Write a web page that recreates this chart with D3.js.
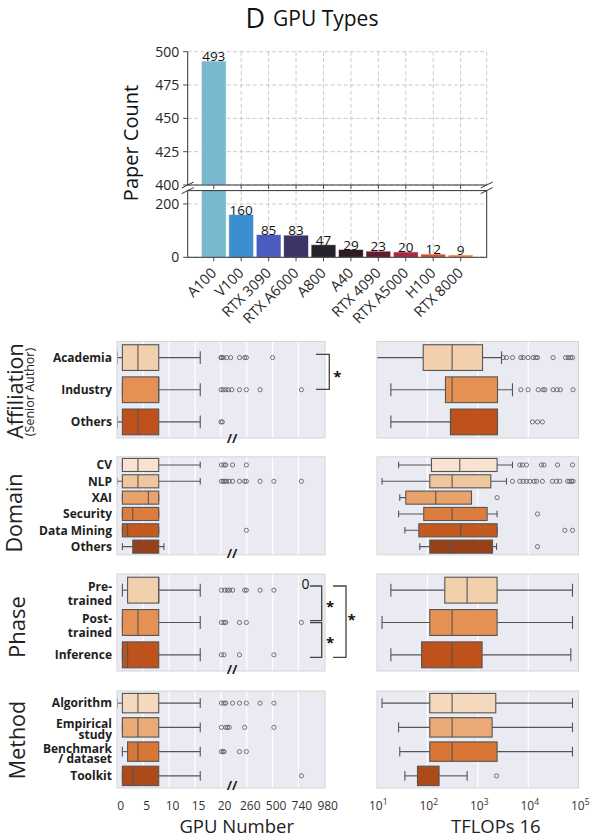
<!DOCTYPE html>
<html><head><meta charset="utf-8">
<script src="https://cdn.jsdelivr.net/npm/d3@7"></script>
<style>body{margin:0;background:#fff;} svg{display:block;font-family:"Open Sans",sans-serif;}</style>
</head><body><svg id="c" width="594" height="840"></svg>
<script>
// ---------------- DATA ----------------
const gpuTypes = ["A100","V100","RTX 3090","RTX A6000","A800","A40","RTX 4090","RTX A5000","H100","RTX 8000"];
const gpuCounts = [493,160,85,83,47,29,23,20,12,9];
const gpuColors = ["#78b9d0","#3b8fd1","#4a5cc0","#3c3466","#23232b","#2e1a22","#5e1e30","#a9283f","#da4a2e","#ee8b4e"];
const upperTicks = [400,425,450,475,500];
const lowerTicks = [0,200];

const gpuTickVals = [0,5,10,15,20,260,500,740,980];
const tflopTickExp = [1,2,3,4,5];

// Affiliation  [min, q1, median, q3, max]
const affCats = ["Academia","Industry","Others"];
const affGpu = [[0,1,4,8,16],[1,1,8,8,16],[0,1,4,8,16]];
const affGpuOut = [[20,24,40,72,110,192,240,256,500],[20,40,64,88,120,192,256,384,768],[20,32]];
const affTf = [[6,83,310,1240,2950],[19,229,310,2455,4860],[19,288,288,2455,2455]];
const affTfOut = [[3170,3700,4860,7100,7900,9900,12450,14100,15200,31000,54600,61400,68500,75000],
  [7100,9900,15700,19600,21200,31000,37000,43200,77000],[12100,15200,19000]];

// Domain
const domCats = ["CV","NLP","XAI","Security","Data Mining","Others"];
const domGpu = [[1,1,4,8,16],[0,1,4,8,16],[1,1,6,8,8],[1,1,3,8,8],[1,1,2,8,8],[1,3,4,8,9]];
const domGpuOut = [[24,48,64,128,256],[24,40,56,72,96,128,192,240,256,384,512,768],[],[],[256],[]];
const domTf = [[27,121,440,2410,4860],[12.7,112,310,1810,3700],[28.5,37.5,147,750,750],
  [27,85,310,1530,2410],[36,68,460,2410,2410],[71,112,279,1955,2350]];
const domTfOut = [[6790,7670,9200,18200,20500,37900,75000],
  [4860,6790,7900,9200,10700,13100,14600,19000,30000,36000,42000,60000,66000,72000,77000],
  [2410],[15200],[53000,75000],[15200]];

// Phase
const phaseCats = ["Pre-\ntrained","Post-\ntrained","Inference"];
const phaseGpu = [[1,2,8,8,16],[1,1,4,8,16],[1,1,2,8,16]];
const phaseGpuOut = [[24,56,80,100,128,240,256,384,512],[24,48,64,192,256,768],[24,48,192,512]];
const phaseTf = [[19,222,614,2410,75000],[12.7,112,310,2410,75000],[19,77,310,1215,69500]];
const phaseTfOut = [[],[],[]];

// Method
const methCats = ["Algorithm","Empirical\nstudy","Benchmark\n/ dataset","Toolkit"];
const methGpu = [[0,1,4,8,16],[1,1,4,8,16],[1,2,4,8,16],[1,1,3,8,16]];
const methGpuOut = [[24,48,64,128,192,256,384,512],[24,64,80,96,240,512],[24,40,48,192,256],[768]];
const methTf = [[12.7,112,310,2270,75000],[27,112,310,1920,75000],[28.5,112,310,2410,75000],[36,64,64,171,614]];
const methTfOut = [[],[],[],[2350]];

const orangeStops = ["#fff5eb","#fee6ce","#fdd0a2","#fdae6b","#fd8d3c","#f16913","#d94801","#a63603","#7f2704"];

// ---------------- DRAW ----------------
const svg = d3.select("#c");
const defs = svg.append("defs");
const TXT = "#262626";
let clipN = 0;
function clip(x,y,w,h){
  const id = "cl"+(clipN++);
  defs.append("clipPath").attr("id",id).append("rect").attr("x",x).attr("y",y).attr("width",w).attr("height",h);
  return "url(#"+id+")";
}
function oranges(n){
  const s = d3.scaleLinear().domain(d3.range(9).map(i=>i/8)).range(orangeStops).interpolate(d3.interpolateRgb);
  return d3.range(n).map(i=>{const c=d3.hsl(s((i+1)/(n+1))); c.s*=0.75; return c.formatHex();});
}

// Title
svg.append("text").attr("x",245.5).attr("y",28).attr("font-size",27).attr("fill","#111").text("D");
svg.append("text").attr("x",273).attr("y",26).attr("font-size",21).attr("fill","#111").text("GPU Types");

// Bar chart (broken axis)
const bx0=187.7, bx1=486.7;
const xB = d3.scaleBand().domain(gpuTypes).range([bx0,bx1]).paddingInner(0.1).paddingOuter(0.5);
const yUp = d3.scaleLinear().domain([400,500]).range([185,51.7]);
const yLo = d3.scaleLinear().domain([0,250]).range([257.3,190.6]);
const gridStyle = s=>s.attr("stroke","#bdbdbd").attr("stroke-width",0.8).attr("stroke-dasharray","4,2.5");

function barPanel(y, ticks, yTop, yBot){
  const g = svg.append("g");
  ticks.forEach(t=>g.append("line").attr("x1",bx0).attr("x2",bx1).attr("y1",y(t)).attr("y2",y(t)).call(gridStyle));
  gpuTypes.forEach(c=>g.append("line").attr("x1",xB(c)+xB.bandwidth()/2).attr("x2",xB(c)+xB.bandwidth()/2)
    .attr("y1",yTop).attr("y2",yBot).call(gridStyle));
  const bars = g.append("g").attr("clip-path",clip(bx0,yTop,bx1-bx0,yBot-yTop));
  bars.selectAll("rect").data(gpuCounts).join("rect")
    .attr("x",(d,i)=>xB(gpuTypes[i])).attr("width",xB.bandwidth())
    .attr("y",d=>y(d)).attr("height",d=>Math.max(0,yBot-y(d)))
    .attr("fill",(d,i)=>gpuColors[i]).attr("stroke","#ffffff").attr("stroke-opacity",0.6).attr("stroke-width",0.8);
  ticks.forEach(t=>{
    g.append("line").attr("x1",bx0-4.5).attr("x2",bx0).attr("y1",y(t)).attr("y2",y(t)).attr("stroke","#333").attr("stroke-width",0.9);
    g.append("text").attr("x",bx0-8.5).attr("y",y(t)+5).attr("text-anchor","end").attr("font-size",14).attr("fill",TXT).text(t);
  });
  gpuTypes.forEach(c=>g.append("line").attr("x1",xB(c)+xB.bandwidth()/2).attr("x2",xB(c)+xB.bandwidth()/2)
    .attr("y1",yBot).attr("y2",yBot+4).attr("stroke","#333").attr("stroke-width",0.9));
  return g;
}
const gUp = barPanel(yUp, upperTicks, 51.7, 185);
const gLo = barPanel(yLo, lowerTicks, 190.6, 257.3);
// spines
gUp.append("line").attr("x1",bx1).attr("x2",bx1).attr("y1",51.7).attr("y2",185).call(gridStyle);
gUp.append("line").attr("x1",bx0).attr("x2",bx0).attr("y1",51.7).attr("y2",185).attr("stroke","#333");
gUp.append("line").attr("x1",bx0).attr("x2",bx1).attr("y1",185).attr("y2",185).attr("stroke","#333");
gLo.append("rect").attr("x",bx0).attr("y",190.6).attr("width",bx1-bx0).attr("height",257.3-190.6).attr("fill","none").attr("stroke","#333");
[bx0,bx1].forEach(x=>[185,190.6].forEach(y=>svg.append("line").attr("x1",x-6).attr("y1",y+3).attr("x2",x+6).attr("y2",y-3).attr("stroke","#333").attr("stroke-width",1)));
// value labels
gpuCounts.forEach((v,i)=>{
  const y = v>400 ? yUp(v) : yLo(v);
  svg.append("text").attr("x",xB(gpuTypes[i])+xB.bandwidth()/2).attr("y",y).attr("text-anchor","middle")
    .attr("font-size",13.5).attr("fill","#111").text(v);
});
// x tick labels
gpuTypes.forEach(c=>{
  const x = xB(c)+xB.bandwidth()/2;
  svg.append("text").attr("transform",`translate(${x+3.5},${274}) rotate(-45)`).attr("text-anchor","end")
    .attr("font-size",14.5).attr("fill",TXT).text(c);
});
svg.append("text").attr("transform","translate(138,143) rotate(-90)").attr("text-anchor","middle")
  .attr("font-size",20).attr("fill","#111").text("Paper Count");

// ---------------- Box panels ----------------
const LX0=117, LX1=325, RX0=377, RX1=578.5;
const xL = d3.scaleLinear().domain([0,20,980]).range([117.2,221,324.2]);
const xR = d3.scaleLog().domain([10,1e5]).range([376.8,578.8]);
const LINE = "#555";

function boxPanel(x0,x1,y0,y1,cats,stats,outs,xs,gridVals,colors){
  const g = svg.append("g");
  g.append("rect").attr("x",x0).attr("y",y0).attr("width",x1-x0).attr("height",y1-y0).attr("fill","#EAEAF2");
  gridVals.forEach(v=>g.append("line").attr("x1",xs(v)).attr("x2",xs(v)).attr("y1",y0).attr("y2",y1).attr("stroke","#fff").attr("stroke-width",1.2));
  const inner = g.append("g").attr("clip-path",clip(x0,y0,x1-x0,y1-y0));
  const yb = d3.scaleBand().domain(cats).range([y0,y1]);
  const bh = yb.bandwidth()*0.8;
  cats.forEach((c,i)=>{
    const cy = yb(c)+yb.bandwidth()/2;
    const [mn,q1,md,q3,mx] = stats[i];
    inner.append("line").attr("x1",xs(mn)).attr("x2",xs(q1)).attr("y1",cy).attr("y2",cy).attr("stroke",LINE).attr("stroke-width",1.1);
    inner.append("line").attr("x1",xs(q3)).attr("x2",xs(mx)).attr("y1",cy).attr("y2",cy).attr("stroke",LINE).attr("stroke-width",1.1);
    [mn,mx].forEach(v=>inner.append("line").attr("x1",xs(v)).attr("x2",xs(v)).attr("y1",cy-bh/4).attr("y2",cy+bh/4).attr("stroke",LINE).attr("stroke-width",1.1));
    inner.append("rect").attr("x",xs(q1)).attr("y",cy-bh/2).attr("width",xs(q3)-xs(q1)).attr("height",bh)
      .attr("fill",colors[i]).attr("stroke",LINE).attr("stroke-width",1.1);
    inner.append("line").attr("x1",xs(md)).attr("x2",xs(md)).attr("y1",cy-bh/2).attr("y2",cy+bh/2).attr("stroke",LINE).attr("stroke-width",1.1);
    outs[i].forEach(v=>inner.append("circle").attr("cx",xs(v)).attr("cy",cy).attr("r",2.1).attr("fill","none").attr("stroke",LINE).attr("stroke-width",0.8));
  });
  g.append("rect").attr("x",x0).attr("y",y0).attr("width",x1-x0).attr("height",y1-y0).attr("fill","none").attr("stroke","#d6d6d6").attr("stroke-width",1);
  return yb;
}
function rowLabels(yb, cats, off1, off2){
  cats.forEach(c=>{
    const cy = yb(c)+yb.bandwidth()/2;
    const parts = c.split("\n");
    const t = svg.append("text").attr("text-anchor","end").attr("font-size",12).attr("font-weight",700).attr("fill","#1e1e1e");
    if(parts.length===1){ t.attr("x",112).attr("y",cy+4.3).text(c); }
    else {
      t.append("tspan").attr("x",112).attr("y",cy+off1+4.3).text(parts[0]);
      t.append("tspan").attr("x",112).attr("y",cy+off2+4.3).text(parts[1]);
    }
  });
}
function breakMark(y){
  svg.append("text").attr("x",232).attr("y",y).attr("text-anchor","middle").attr("font-size",13).attr("font-weight",700).attr("fill","#222").text("//");
}
const gridL = [5,10,15,20,260,500,740];
const gridR = [100,1000,10000];

const panels = [
  {cats:affCats, gpu:affGpu, gpuOut:affGpuOut, tf:affTf, tfOut:affTfOut, y0:341.5, y1:438, off:[0,0], brk:443},
  {cats:domCats, gpu:domGpu, gpuOut:domGpuOut, tf:domTf, tfOut:domTfOut, y0:456.8, y1:554.8, off:[0,0], brk:558},
  {cats:phaseCats, gpu:phaseGpu, gpuOut:phaseGpuOut, tf:phaseTf, tfOut:phaseTfOut, y0:574, y1:671, off:[-3.7,10.3], brk:674},
  {cats:methCats, gpu:methGpu, gpuOut:methGpuOut, tf:methTf, tfOut:methTfOut, y0:691, y1:788, off:[-3.3,7.3], brk:790}
];
panels.forEach(p=>{
  const cols = oranges(p.cats.length);
  const yb = boxPanel(LX0,LX1,p.y0,p.y1,p.cats,p.gpu,p.gpuOut,xL,gridL,cols);
  boxPanel(RX0,RX1,p.y0,p.y1,p.cats,p.tf,p.tfOut,xR,gridR,cols);
  rowLabels(yb,p.cats,p.off[0],p.off[1]);
  breakMark(p.brk);
});

// Group labels
function groupLabel(txt,x,y,fs){
  svg.append("text").attr("transform",`translate(${x},${y}) rotate(-90)`).attr("text-anchor","middle")
    .attr("font-size",fs).attr("fill","#222").text(txt);
}
groupLabel("Affiliation",22.5,391,21.5);
groupLabel("(Senior Author)",34,392,12.5);
groupLabel("Domain",21.5,513,21.5);
groupLabel("Phase",25,627,22);
groupLabel("Method",25,740,21.5);

// Bottom axes
gpuTickVals.forEach(t=>svg.append("text").attr("x",xL(t)+3.5).attr("y",810).attr("text-anchor","middle")
  .attr("font-size",12).attr("fill","#333").text(t));
tflopTickExp.forEach(e=>{
  const t = svg.append("text").attr("x",xR(Math.pow(10,e))+1.5).attr("y",810).attr("text-anchor","middle").attr("font-size",12).attr("fill","#333");
  t.append("tspan").text("10");
  t.append("tspan").attr("dy",-5).attr("font-size",8.5).text(e);
});
svg.append("text").attr("x",236.7).attr("y",833).attr("text-anchor","middle").attr("font-size",18.5).attr("fill","#222").text("GPU Number");
svg.append("text").attr("x",495.8).attr("y",833).attr("text-anchor","middle").attr("font-size",18.5).attr("fill","#222").text("TFLOPs 16");

// Significance brackets
const BR = "#444";
function bracket(xa,xb,ya,yb){
  svg.append("path").attr("d",`M${xa},${ya}H${xb}V${yb}H${xa}`).attr("fill","none").attr("stroke",BR).attr("stroke-width",1.3);
}
function star(x,y){
  svg.append("text").attr("x",x).attr("y",y).attr("text-anchor","middle").attr("font-size",15).attr("font-weight",700).attr("fill","#111").text("*");
}
bracket(316,329.3,354.3,389.3); star(337.3,381.5);
bracket(310,321.7,586,620.7); star(330,611.5);
bracket(310,321.7,622.7,657.3); star(330,648);
bracket(333,346,586,657.3); star(351.7,625);
svg.append("text").attr("x",305.5).attr("y",588.5).attr("text-anchor","middle").attr("font-size",14).attr("fill","#111").text("0");
</script></body></html>
